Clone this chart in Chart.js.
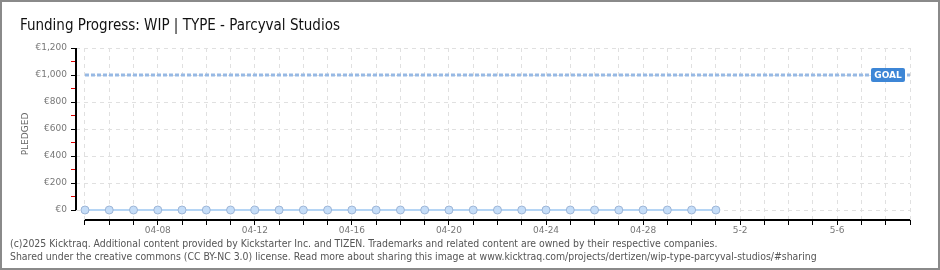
<!DOCTYPE html>
<html>
<head>
<meta charset="utf-8">
<script src="https://cdn.jsdelivr.net/npm/chart.js@4/dist/chart.umd.min.js"></script>
<style>
  html, body { margin: 0; padding: 0; background: #fff; }
  #wrap { position: relative; width: 940px; height: 270px; }
  #frame { position: absolute; left: 0; top: 0; width: 940px; height: 270px; box-sizing: border-box; border: 2px solid #8a8a8a; pointer-events: none; }
  .foot { position: absolute; left: 10px; font: 10.4px "DejaVu Sans Condensed", "DejaVu Sans", sans-serif; color: #555; white-space: nowrap; }
</style>
</head>
<body>
<div id="wrap">
  <canvas id="chart" width="940" height="270"></canvas>
  <div class="foot" id="foot1" style="top:237px"></div>
  <div class="foot" id="foot2" style="top:250px"></div>
  <div id="frame"></div>
</div>
<script>
const chartTitle = "Funding Progress: WIP | TYPE - Parcyval Studios";
const footerLines = [
  "(c)2025 Kicktraq. Additional content provided by Kickstarter Inc. and TIZEN. Trademarks and related content are owned by their respective companies.",
  "Shared under the creative commons (CC BY-NC 3.0) license. Read more about sharing this image at www.kicktraq.com/projects/dertizen/wip-type-parcyval-studios/#sharing",
];

const days = [
  "04-05", "04-06", "04-07", "04-08", "04-09", "04-10", "04-11", "04-12", "04-13", "04-14",
  "04-15", "04-16", "04-17", "04-18", "04-19", "04-20", "04-21", "04-22", "04-23", "04-24",
  "04-25", "04-26", "04-27", "04-28", "04-29", "04-30", "5-1", "5-2", "5-3", "5-4",
  "5-5", "5-6", "5-7", "5-8", "5-9",
];
const shownDays = ["04-08", "04-12", "04-16", "04-20", "04-24", "04-28", "5-2", "5-6"];

// pledged per day (campaign ran 04-05 .. 5-1)
const pledged = [0, 0, 0, 0, 0, 0, 0, 0, 0, 0, 0, 0, 0, 0, 0, 0, 0, 0, 0, 0, 0, 0, 0, 0, 0, 0, 0];
const goal = 1000;

const yTicks = [0, 200, 400, 600, 800, 1000, 1200];
const yMinorTicks = [100, 300, 500, 700, 900, 1100];

document.getElementById("foot1").textContent = footerLines[0];
document.getElementById("foot2").textContent = footerLines[1];

function euro(v) {
  return "€" + v.toLocaleString("en-US");
}

const goalLabel = {
  id: "goalLabel",
  afterDatasetsDraw(chart) {
    const { ctx, chartArea, scales } = chart;
    const y = scales.y.getPixelForValue(goal);
    const w = 34, h = 14;
    const x = chartArea.right - 5 - w;
    ctx.save();
    ctx.fillStyle = "#3d86d6";
    ctx.beginPath();
    ctx.roundRect(x, y - h / 2, w, h, 2);
    ctx.fill();
    ctx.fillStyle = "#fff";
    ctx.font = "bold 9px 'DejaVu Sans'";
    ctx.textAlign = "center";
    ctx.textBaseline = "middle";
    ctx.fillText("GOAL", x + w / 2, y + 0.5);
    ctx.restore();
  },
};

const axisLines = {
  id: "axisLines",
  afterDraw(chart) {
    const { ctx, chartArea, scales } = chart;
    ctx.save();
    ctx.strokeStyle = "#000";
    ctx.lineWidth = 2;
    ctx.beginPath();
    ctx.moveTo(chartArea.left, scales.y.getPixelForValue(yTicks[yTicks.length - 1]));
    ctx.lineTo(chartArea.left, scales.y.getPixelForValue(0));
    ctx.moveTo(scales.x.getPixelForValue(0), chartArea.bottom);
    ctx.lineTo(chartArea.right, chartArea.bottom);
    ctx.stroke();
    ctx.restore();
  },
};

new Chart(document.getElementById("chart"), {
  type: "line",
  data: {
    datasets: [
      {
        label: "Pledged",
        data: pledged.map((v, i) => ({ x: i, y: v })),
        borderColor: "#b5d5f5",
        borderWidth: 2,
        pointRadius: 4,
        pointBackgroundColor: "#c5ddf8",
        pointBorderColor: "#9db5d6",
        pointBorderWidth: 1,
        tension: 0,
        order: 1,
      },
      {
        label: "Goal",
        data: days.map((d, i) => ({ x: i, y: goal })),
        borderColor: "#97b9e4",
        borderWidth: 3,
        borderDash: [4, 2],
        borderCapStyle: "butt",
        pointRadius: 0,
        order: 2,
      },
    ],
  },
  options: {
    responsive: false,
    animation: false,
    layout: { padding: { left: 20, right: 30, top: 0, bottom: 34 } },
    plugins: {
      legend: { display: false },
      tooltip: { enabled: false },
      title: {
        display: true,
        text: chartTitle,
        align: "start",
        color: "#111",
        font: { family: "'Liberation Sans Narrow', 'DejaVu Sans Condensed', sans-serif", size: 15, weight: "normal" },
        padding: { top: 17, bottom: 13 },
      },
    },
    scales: {
      x: {
        type: "linear",
        min: -0.37,
        max: days.length - 1,
        afterBuildTicks: (scale) => {
          scale.ticks = days.map((d, i) => ({ value: i }));
        },
        afterFit: (scale) => { scale.height = 16; },
        border: { display: false, dash: [4, 4] },
        grid: {
          color: "#e0e0e0",
          tickColor: "#000",
          tickLength: 5,
          tickWidth: 1,
          lineWidth: 1,
          tickBorderDash: [],
        },
        ticks: {
          autoSkip: false,
          maxRotation: 0,
          padding: 0,
          color: "#777",
          font: { family: "'DejaVu Sans'", size: 9 },
          callback: (v) => (shownDays.includes(days[v]) ? days[v] : ""),
        },
      },
      y: {
        min: -74,
        max: 1200,
        afterBuildTicks: (scale) => {
          scale.ticks = yTicks.concat(yMinorTicks).sort((a, b) => a - b).map((v) => ({ value: v }));
        },
        afterFit: (scale) => { scale.width = 56; },
        border: { display: false, dash: [4, 4] },
        grid: {
          color: (c) => (yTicks.includes(c.tick.value) ? "#e0e0e0" : "rgba(0,0,0,0)"),
          tickColor: (c) => (yTicks.includes(c.tick.value) ? "#000" : "#e00000"),
          tickLength: 5,
          lineWidth: 1,
          tickBorderDash: [],
        },
        ticks: {
          autoSkip: false,
          padding: 4,
          color: "#777",
          font: { family: "'DejaVu Sans'", size: 9 },
          callback: (v) => (yTicks.includes(v) ? euro(v) : ""),
        },
        title: {
          display: true,
          text: "PLEDGED",
          color: "#666",
          font: { family: "'DejaVu Sans'", size: 9 },
          padding: 0,
        },
      },
    },
  },
  plugins: [goalLabel, axisLines],
});
</script>
</body>
</html>
